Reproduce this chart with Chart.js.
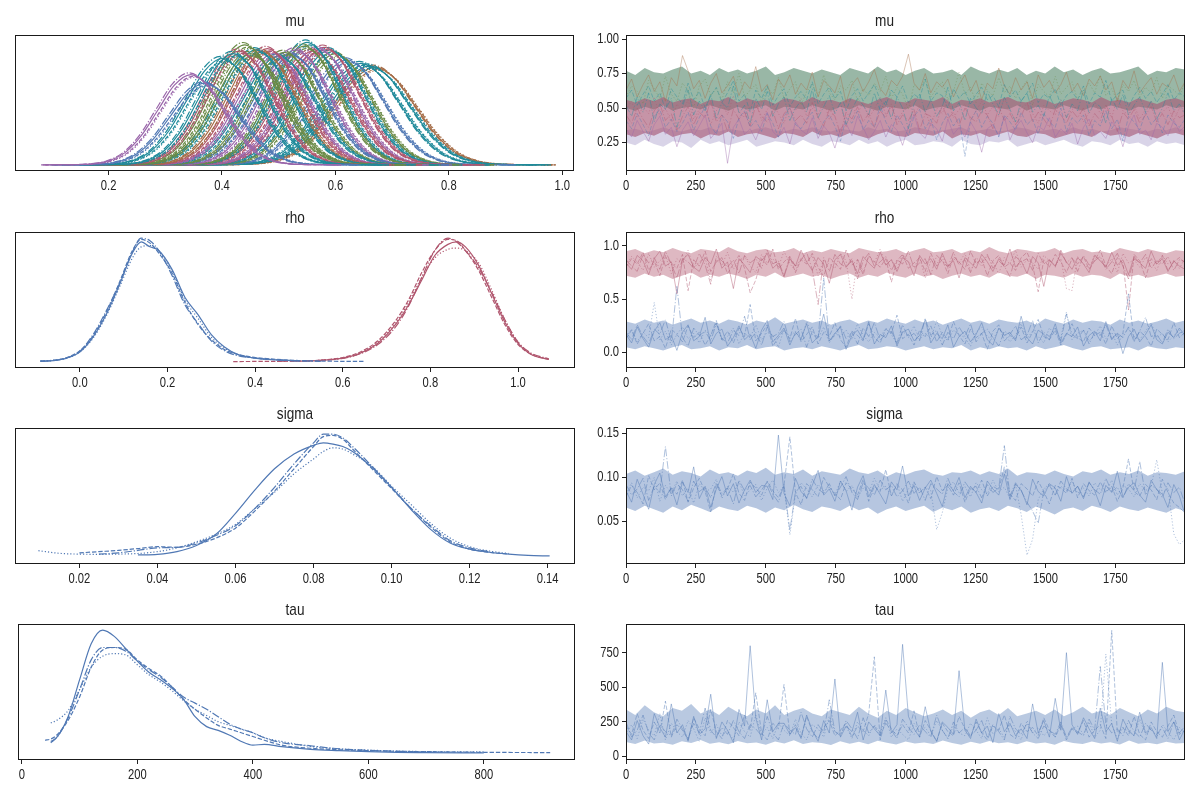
<!DOCTYPE html>
<html>
<head>
<meta charset="utf-8">
<script src="https://cdn.jsdelivr.net/npm/chart.js@4.4.1/dist/chart.umd.min.js"></script>
<style>
  html, body { margin: 0; padding: 0; background: #fff; }
  #fig { position: relative; width: 1200px; height: 800px; overflow: hidden; }
  .panel { position: absolute; }
</style>
</head>
<body>
<div id="fig"></div>
<script>
/* ---------------- Data ---------------- */
const iterTicks  = [0, 250, 500, 750, 1000, 1250, 1500, 1750];
const iterLabels = ['0', '250', '500', '750', '1000', '1250', '1500', '1750'];
const nDraws = 2000;

// mu: KDE bell (standardised units) + each group's centre / spread / peak
const muProfileX = [-4.5, -3.5, -3, -2.5, -2, -1.5, -1, -0.5, 0, 0.5, 1, 1.5, 2, 2.5, 3, 3.5, 4.5];
const muProfileY = [0, 0.003, 0.011, 0.044, 0.135, 0.325, 0.607, 0.882, 1, 0.882, 0.607, 0.325, 0.135, 0.044, 0.011, 0.003, 0];
const muCenters = [0.345, 0.37, 0.40, 0.42, 0.43, 0.44, 0.45, 0.46, 0.47, 0.48, 0.49, 0.50, 0.51, 0.52, 0.53, 0.545, 0.55, 0.56, 0.57, 0.58, 0.59, 0.60, 0.62, 0.645, 0.66, 0.67];
const muWidths  = [0.058, 0.06, 0.062, 0.06, 0.06, 0.06, 0.06, 0.062, 0.06, 0.06, 0.06, 0.062, 0.06, 0.062, 0.06, 0.06, 0.06, 0.062, 0.06, 0.062, 0.062, 0.062, 0.065, 0.068, 0.07, 0.07];
const muHeights = [0.73, 0.66, 0.86, 0.90, 0.92, 0.97, 0.90, 0.93, 0.92, 0.94, 0.90, 0.88, 0.91, 0.90, 0.93, 0.96, 0.99, 0.92, 0.94, 0.95, 0.93, 0.90, 0.85, 0.82, 0.80, 0.79];
const muChainShift = [0, 0.004, -0.003, 0.006];
const muChainScale = [1, 0.98, 1.02, 0.97];

// rho KDE (two components, four chains each)
const rhoLowX  = [-0.09, -0.06, -0.03, 0, 0.03, 0.06, 0.09, 0.12, 0.14, 0.16, 0.18, 0.21, 0.24, 0.27, 0.30, 0.33, 0.36, 0.40, 0.45, 0.50, 0.55, 0.60, 0.65];
const rhoLowY = [
  [0.005, 0.01, 0.03, 0.08, 0.2, 0.38, 0.62, 0.88, 0.97, 0.93, 0.9, 0.75, 0.52, 0.38, 0.22, 0.12, 0.06, 0.03, 0.015, 0.008, null, null, null],
  [0.006, 0.012, 0.035, 0.09, 0.21, 0.4, 0.64, 0.9, 0.99, 0.96, 0.88, 0.72, 0.48, 0.3, 0.18, 0.1, 0.06, 0.035, 0.02, 0.01, 0.006, 0.004, 0.003],
  [0.004, 0.011, 0.032, 0.085, 0.22, 0.41, 0.63, 0.89, 1.0, 0.98, 0.9, 0.7, 0.46, 0.31, 0.17, 0.09, 0.05, 0.03, 0.015, 0.008, 0.004, null, null],
  [0.007, 0.013, 0.03, 0.08, 0.19, 0.37, 0.6, 0.84, 0.93, 0.94, 0.9, 0.74, 0.5, 0.35, 0.2, 0.11, 0.06, 0.03, 0.016, 0.008, null, null, null]
];
const rhoHighX = [0.35, 0.40, 0.45, 0.50, 0.55, 0.60, 0.64, 0.68, 0.72, 0.75, 0.78, 0.81, 0.84, 0.86, 0.88, 0.91, 0.94, 0.97, 1.00, 1.03, 1.07];
const rhoHighY = [
  [null, null, null, 0.005, 0.012, 0.03, 0.07, 0.15, 0.3, 0.46, 0.66, 0.86, 0.95, 0.97, 0.93, 0.78, 0.55, 0.32, 0.15, 0.06, 0.02],
  [0.002, 0.003, 0.004, 0.006, 0.014, 0.035, 0.08, 0.17, 0.33, 0.5, 0.72, 0.9, 0.99, 0.98, 0.9, 0.74, 0.52, 0.3, 0.14, 0.06, 0.02],
  [null, null, 0.004, 0.006, 0.012, 0.028, 0.065, 0.14, 0.28, 0.45, 0.68, 0.9, 1.0, 0.97, 0.9, 0.76, 0.56, 0.34, 0.16, 0.07, 0.025],
  [null, null, null, 0.005, 0.013, 0.03, 0.07, 0.16, 0.31, 0.48, 0.68, 0.84, 0.91, 0.92, 0.9, 0.8, 0.58, 0.34, 0.16, 0.065, 0.022]
];

// sigma KDE
const sigmaKdeX = [0.0095, 0.015, 0.02, 0.025, 0.03, 0.035, 0.04, 0.045, 0.05, 0.055, 0.06, 0.065, 0.07, 0.075, 0.08, 0.0825, 0.085, 0.0875, 0.09, 0.095, 0.10, 0.105, 0.11, 0.115, 0.12, 0.125, 0.13, 0.135, 0.1405];
const sigmaKdeY = [
  [null, null, null, null, null, 0.023, 0.028, 0.05, 0.1, 0.19, 0.36, 0.55, 0.72, 0.84, 0.91, 0.93, 0.92, 0.9, 0.86, 0.73, 0.57, 0.39, 0.23, 0.12, 0.07, 0.045, 0.03, 0.02, 0.015],
  [null, null, 0.04, 0.05, 0.06, 0.075, 0.09, 0.085, 0.11, 0.16, 0.24, 0.38, 0.54, 0.72, 0.9, 0.98, 0.99, 0.96, 0.88, 0.72, 0.56, 0.4, 0.25, 0.13, 0.07, 0.045, 0.03, null, null],
  [null, null, null, 0.03, 0.04, 0.06, 0.08, 0.085, 0.12, 0.18, 0.26, 0.4, 0.57, 0.76, 0.93, 1.0, 1.0, 0.97, 0.9, 0.74, 0.57, 0.4, 0.26, 0.14, 0.08, 0.05, null, null, null],
  [0.058, 0.036, 0.03, 0.028, 0.03, 0.035, 0.05, 0.08, 0.13, 0.19, 0.27, 0.4, 0.53, 0.68, 0.8, 0.86, 0.89, 0.88, 0.84, 0.74, 0.58, 0.43, 0.28, 0.16, 0.09, 0.055, 0.035, null, null]
];

// tau KDE
const tauKdeX = [40, 50, 60, 80, 100, 120, 140, 160, 180, 200, 220, 240, 260, 280, 300, 320, 340, 360, 380, 400, 420, 450, 500, 550, 600, 650, 700, 800, 915];
const tauKdeY = [
  [null, 0.1, 0.13, 0.3, 0.6, 0.89, 1.0, 0.95, 0.85, 0.75, 0.66, 0.6, 0.53, 0.44, 0.3, 0.22, 0.19, 0.15, 0.1, 0.07, 0.077, 0.058, 0.036, 0.026, 0.018, 0.012, 0.01, 0.007, null],
  [0.11, 0.12, 0.15, 0.27, 0.46, 0.7, 0.84, 0.86, 0.845, 0.76, 0.69, 0.63, 0.54, 0.44, 0.36, 0.29, 0.23, 0.2, 0.17, 0.14, 0.11, 0.07, 0.045, 0.033, 0.026, 0.02, 0.018, 0.012, 0.01],
  [null, 0.09, 0.13, 0.29, 0.52, 0.76, 0.86, 0.86, 0.83, 0.75, 0.68, 0.62, 0.54, 0.46, 0.41, 0.36, 0.3, 0.24, 0.2, 0.17, 0.13, 0.09, 0.065, 0.04, 0.028, 0.02, 0.015, null, null],
  [null, 0.25, 0.27, 0.35, 0.52, 0.7, 0.79, 0.81, 0.8, 0.72, 0.64, 0.58, 0.51, 0.43, 0.36, 0.31, 0.26, 0.23, 0.2, 0.17, 0.13, 0.1, 0.06, 0.04, 0.03, 0.022, 0.018, 0.015, null]
];

// mu traces (thinned draws, a few representative groups)
const muTrace = [
  [.35,.29,.41,.33,.26,.38,.44,.31,.36,.22,.34,.40,.30,.37,.45,.28,.33,.39,.10,.36,
   .42,.31,.35,.27,.38,.47,.33,.29,.36,.24,.40,.34,.31,.43,.28,.37,.32,.21,.35,.39,
   .30,.44,.36,.27,.33,.41,.29,.38,.34,.23,.37,.45,.32,.28,.39,.35,.26,.42,.31,.36,
   .29,.40,.33,.18,.35,.38,.30,.44,.27,.36,.41,.32,.25,.37,.34,.43,.29,.35,.31,.39,
   .24,.36,.42,.30,.33,.28,.40,.35,.22,.37,.45,.31,.34,.27,.39,.36,.30,.41,.33,.37],
  [.41,.35,.46,.38,.30,.44,.49,.36,.42,.33,.39,.47,.34,.43,.51,.37,.31,.45,.40,.28,
   .43,.48,.36,.41,.33,.46,.39,.29,.44,.50,.38,.35,.42,.47,.31,.40,.45,.37,.26,.43,
   .39,.48,.34,.41,.36,.52,.40,.33,.45,.38,.30,.44,.49,.35,.42,.27,.39,.46,.37,.43,
   .15,.41,.48,.36,.44,.39,.29,.45,.40,.34,.47,.38,.42,.31,.46,.40,.36,.50,.33,.43,
   .39,.45,.30,.41,.37,.48,.35,.42,.26,.44,.40,.34,.47,.38,.43,.32,.45,.39,.36,.42],
  [.52,.44,.58,.47,.61,.40,.53,.49,.57,.36,.51,.63,.45,.55,.48,.60,.42,.54,.50,.66,
   .46,.52,.39,.57,.49,.62,.44,.53,.58,.41,.50,.55,.47,.64,.43,.51,.59,.46,.54,.38,
   .49,.57,.52,.45,.61,.48,.55,.42,.58,.50,.35,.53,.60,.47,.56,.44,.51,.65,.48,.54,
   .41,.57,.50,.46,.62,.53,.45,.58,.49,.40,.55,.61,.47,.52,.44,.59,.50,.56,.43,.53,
   .48,.63,.46,.54,.51,.39,.57,.49,.60,.45,.52,.58,.47,.55,.42,.50,.61,.48,.53,.46],
  [.58,.66,.62,.53,.70,.64,.57,.73,.60,.55,.68,.63,.50,.66,.71,.59,.64,.56,.69,.61,
   .75,.58,.63,.67,.54,.65,.60,.72,.57,.64,.69,.52,.62,.67,.59,.74,.61,.56,.66,.63,
   .70,.55,.64,.59,.68,.62,.73,.57,.65,.60,.49,.67,.63,.71,.58,.64,.69,.56,.62,.76,
   .60,.65,.54,.68,.63,.59,.72,.61,.66,.57,.64,.70,.52,.67,.62,.58,.73,.60,.65,.69,
   .56,.63,.68,.61,.74,.59,.64,.55,.67,.62,.70,.58,.65,.61,.72,.57,.66,.63,.59,.68],
  [.63,.71,.58,.67,.74,.62,.69,.55,.72,.66,.88,.77,.64,.70,.57,.68,.75,.61,.66,.73,
   .59,.69,.64,.80,.62,.67,.56,.71,.65,.74,.60,.68,.63,.76,.58,.70,.66,.61,.73,.54,
   .67,.72,.62,.69,.78,.64,.59,.70,.66,.73,.89,.68,.63,.75,.61,.69,.65,.71,.58,.67,
   .74,.62,.70,.56,.68,.64,.79,.66,.60,.72,.63,.69,.57,.74,.65,.70,.61,.67,.76,.62,
   .68,.59,.71,.66,.73,.63,.69,.55,.70,.64,.77,.61,.67,.72,.60,.68,.65,.74,.62,.69],
  [.57,.63,.52,.60,.66,.55,.61,.49,.64,.58,.53,.68,.56,.62,.50,.59,.65,.54,.61,.70,
   .55,.60,.47,.63,.57,.66,.52,.59,.64,.51,.58,.62,.56,.69,.53,.60,.65,.57,.62,.48,
   .59,.64,.55,.61,.67,.56,.52,.63,.58,.66,.54,.60,.57,.71,.55,.61,.59,.50,.64,.57,
   .62,.53,.60,.65,.56,.59,.51,.67,.58,.63,.55,.61,.68,.54,.60,.57,.64,.52,.59,.62,
   .56,.66,.53,.61,.58,.70,.55,.60,.63,.51,.59,.65,.57,.62,.54,.60,.67,.56,.61,.58],
  [.45,.39,.50,.42,.36,.48,.53,.41,.46,.34,.44,.51,.38,.47,.43,.55,.40,.45,.33,.49,
   .42,.47,.37,.52,.44,.40,.48,.35,.46,.50,.41,.45,.39,.54,.43,.37,.49,.44,.31,.47,
   .42,.51,.40,.46,.36,.48,.43,.53,.38,.45,.41,.49,.34,.46,.44,.39,.52,.42,.47,.37,
   .50,.43,.40,.48,.45,.35,.51,.41,.46,.38,.44,.54,.40,.47,.42,.36,.49,.45,.39,.48,
   .43,.50,.37,.46,.41,.52,.44,.33,.47,.42,.49,.39,.45,.51,.40,.46,.38,.48,.43,.45],
  [.49,.55,.43,.51,.46,.58,.44,.50,.40,.53,.47,.56,.42,.49,.52,.38,.48,.54,.45,.59,
   .47,.43,.51,.56,.41,.49,.53,.46,.39,.52,.48,.57,.44,.50,.45,.55,.42,.48,.53,.36,
   .50,.46,.54,.43,.49,.58,.45,.51,.41,.47,.55,.44,.52,.48,.37,.50,.46,.56,.43,.49,
   .53,.41,.48,.55,.45,.51,.44,.57,.47,.42,.50,.54,.46,.39,.52,.48,.45,.56,.43,.49,
   .51,.40,.47,.54,.46,.50,.43,.58,.48,.45,.52,.42,.49,.55,.44,.47,.51,.41,.50,.46]
];

// rho traces: high component (4 chains), low component (4 chains)
const rhoHighTrace = [
  [.84,.78,.91,.86,.73,.88,.95,.81,.85,.55,.87,.92,.80,.76,.89,.83,.97,.79,.85,.60,
   .88,.82,.75,.90,.86,.93,.79,.84,.71,.88,.81,.96,.85,.77,.89,.83,.65,.87,.92,.80,
   .86,.74,.90,.84,.79,.94,.82,.87,.76,.89,.85,.72,.91,.83,.88,.78,.93,.81,.86,.70,
   .89,.84,.79,.92,.85,.76,.88,.82,.97,.80,.86,.74,.90,.84,.62,.87,.81,.93,.85,.78,
   .89,.83,.75,.91,.86,.80,.94,.82,.87,.73,.90,.84,.79,.95,.83,.88,.76,.86,.81,.78],
  [.80,.88,.83,.94,.77,.86,.72,.90,.84,.79,.92,.58,.87,.81,.95,.76,.85,.89,.74,.83,
   .91,.79,.56,.68,.88,.82,.97,.78,.85,.90,.75,.87,.83,.93,.80,.71,.89,.84,.78,.96,
   .82,.87,.73,.91,.85,.80,.88,.66,.86,.92,.79,.84,.89,.76,.93,.81,.87,.74,.90,.85,
   .78,.95,.83,.88,.72,.86,.91,.80,.84,.77,.89,.94,.82,.57,.87,.80,.92,.85,.75,.88,
   .83,.90,.78,.86,.96,.81,.74,.89,.84,.40,.92,.86,.70,.88,.83,.91,.77,.85,.89,.84],
  [.87,.81,.76,.92,.84,.89,.78,.95,.83,.70,.88,.85,.79,.93,.82,.64,.90,.86,.80,.87,
   .74,.91,.84,.88,.79,.96,.83,.86,.72,.90,.81,.87,.94,.78,.45,.89,.76,.92,.83,.80,
   .88,.69,.86,.93,.81,.85,.90,.77,.87,.83,.95,.79,.84,.88,.73,.91,.86,.80,.94,.82,
   .87,.75,.89,.84,.92,.79,.86,.81,.71,.90,.85,.88,.77,.93,.83,.87,.80,.96,.84,.89,
   .76,.91,.82,.86,.90,.78,.85,.93,.81,.69,.88,.84,.92,.79,.86,.83,.90,.77,.87,.85],
  [.82,.90,.85,.77,.93,.80,.86,.91,.74,.88,.83,.96,.79,.85,.89,.67,.87,.82,.94,.78,
   .86,.90,.81,.75,.92,.84,.88,.80,.95,.83,.77,.89,.85,.91,.72,.87,.83,.79,.93,.86,
   .50,.88,.76,.90,.84,.97,.82,.87,.78,.92,.85,.80,.89,.70,.86,.83,.91,.79,.88,.84,
   .93,.77,.86,.81,.90,.85,.74,.89,.83,.96,.80,.87,.84,.78,.91,.86,.82,.88,.60,.58,
   .90,.83,.79,.92,.86,.81,.88,.75,.93,.84,.87,.80,.89,.85,.77,.91,.83,.86,.79,.88]
];
const rhoLowTrace = [
  [.17,.09,.24,.13,.05,.20,.28,.12,.16,.02,.19,.26,.11,.15,.33,.08,.18,.22,.06,.14,
   .25,.12,.17,.04,.21,.30,.10,.16,.23,.07,.19,.13,.27,.09,.15,.36,.11,.18,.24,.03,
   .16,.21,.12,.29,.08,.17,.14,.25,.06,.19,.22,.11,.16,.31,.09,.18,.13,.26,.05,.15,
   .20,.10,.17,.28,.12,.07,.23,.16,.19,.11,.34,.14,.08,.21,.17,.12,.27,.09,.18,.15,
   .24,.06,.16,.20,.11,.29,.13,.18,-.01,.15,.22,.10,.17,.26,.12,.08,.19,.14,.23,.16],
  [.13,.21,.08,.18,.27,.11,.15,.04,.22,.17,.10,.25,.14,.19,.07,.16,.30,.12,.20,.09,
   .23,.15,.45,.11,.18,.26,.06,.14,.21,.13,.32,.10,.17,.24,.08,.19,.15,.28,.12,.05,
   .20,.16,.11,.27,.14,.09,.22,.18,.35,.13,.17,.07,.21,.15,.25,.10,.19,.12,.29,.16,
   .08,.22,.14,.18,.03,.20,.26,.11,.16,.13,.24,.09,.19,.31,.15,.12,.21,.07,.17,.27,
   .14,.10,.23,.16,.19,.08,.25,.13,.18,.55,.11,.20,.15,.06,.22,.17,.12,.28,.14,.19],
  [.19,.12,.26,.15,.08,.22,.17,.31,.10,.62,.14,.06,.23,.16,.20,.11,.27,.13,.09,.21,
   .16,.34,.12,.19,.07,.24,.15,.18,.29,.10,.17,.22,.05,.20,.14,.70,.11,.16,.25,.13,
   .19,.08,.23,.15,.28,.12,.17,.20,.09,.26,.14,.18,.11,.32,.16,.21,.07,.19,.13,.24,
   .15,.27,.10,.18,.22,.14,.06,.20,.17,.25,.12,.16,.30,.09,.19,.15,.23,.11,.36,.17,
   .13,.21,.08,.19,.16,.26,.12,.18,.14,.24,.10,.20,.33,.15,.17,.09,.22,.13,.18,.21],
  [.15,.22,.10,.19,.14,.47,.12,.20,.07,.17,.24,.13,.18,.09,.21,.16,.28,.11,.15,.23,
   .08,.18,.14,.26,.12,.19,.16,.05,.22,.15,.20,.11,.29,.17,.13,.24,.09,.18,.15,.21,
   .12,.27,.16,.10,.19,.14,.23,.17,.08,.20,.15,.25,.12,.18,.13,.30,.16,.11,.21,.17,
   .14,.06,.19,.24,.15,.12,.22,.18,.10,.16,.27,.13,.20,.15,.09,.23,.17,.14,.38,.12,
   .18,.21,.11,.16,.25,.13,.19,.07,.17,.22,.15,.12,.20,.28,.14,.18,.10,.16,.21,.15]
];

// sigma traces
const sigmaTrace = [
  [.085,.072,.098,.081,.064,.092,.105,.078,.088,.069,.095,.083,.112,.076,.090,.066,.087,.101,.079,.093,
   .071,.086,.097,.083,.091,.090,.075,.148,.082,.068,.099,.084,.077,.091,.108,.080,.087,.073,.096,.085,
   .063,.089,.102,.078,.092,.081,.070,.095,.086,.113,.079,.091,.074,.088,.097,.082,.067,.093,.085,.100,
   .077,.090,.083,.071,.096,.087,.080,.104,.075,.092,.086,.069,.098,.084,.079,.093,.088,.073,.101,.082,
   .090,.076,.095,.085,.068,.091,.083,.107,.078,.089,.094,.080,.072,.097,.086,.081,.066,.092,.079,.058],
  [.078,.091,.083,.070,.102,.086,.094,.075,.089,.081,.097,.072,.088,.099,.084,.061,.092,.079,.087,.104,
   .082,.074,.095,.088,.080,.096,.085,.077,.091,.146,.083,.069,.093,.086,.078,.100,.089,.082,.075,.094,
   .087,.080,.098,.073,.090,.084,.109,.079,.092,.086,.071,.095,.083,.089,.076,.101,.085,.091,.080,.094,
   .072,.088,.083,.097,.079,.090,.086,.112,.081,.074,.093,.087,.079,.096,.084,.070,.091,.088,.082,.099,
   .077,.093,.085,.080,.095,.083,.090,.073,.088,.121,.084,.079,.092,.086,.075,.098,.083,.071,.066,.060],
  [.092,.080,.087,.099,.074,.090,.083,.135,.079,.093,.086,.073,.096,.084,.089,.077,.094,.082,.088,.070,
   .097,.085,.091,.078,.086,.095,.081,.072,.092,.040,.084,.090,.076,.098,.087,.082,.093,.079,.089,.101,
   .083,.075,.094,.088,.080,.097,.086,.091,.078,.085,.096,.082,.089,.074,.093,.087,.081,.099,.084,.078,
   .095,.086,.090,.077,.092,.083,.088,.136,.079,.094,.085,.072,.062,.048,.085,.091,.080,.096,.087,.083,
   .090,.078,.094,.086,.081,.099,.084,.089,.076,.093,.085,.118,.080,.091,.087,.077,.094,.083,.089,.070],
  [.081,.094,.077,.089,.085,.100,.073,.091,.082,.096,.079,.088,.071,.093,.084,.087,.098,.076,.090,.083,
   .095,.079,.086,.092,.074,.088,.097,.083,.090,.035,.081,.094,.087,.078,.092,.085,.089,.080,.096,.084,
   .091,.077,.088,.083,.099,.086,.090,.079,.093,.073,.087,.094,.082,.089,.085,.041,.060,.088,.095,.083,
   .090,.078,.094,.086,.081,.097,.084,.089,.076,.092,.058,.012,.030,.075,.087,.093,.080,.090,.085,.096,
   .082,.088,.079,.094,.086,.083,.097,.080,.091,.087,.078,.093,.085,.090,.120,.082,.088,.036,.024,.030]
];

// tau traces
const tauTrace = [
  [180,120,260,150,90,310,210,140,380,170,230,110,290,160,200,450,130,250,190,100,
   340,220,800,280,120,410,180,240,240,160,210,130,300,190,110,260,170,560,140,220,
   180,320,120,250,200,150,480,170,230,810,290,200,140,360,180,110,250,210,160,620,
   190,130,270,170,220,100,310,180,240,150,200,130,380,170,260,140,420,190,750,230,
   160,280,200,130,350,180,240,110,270,190,150,320,170,210,130,680,180,250,120,200],
  [220,160,310,190,130,250,170,400,140,230,190,120,280,200,150,340,180,130,260,210,
   150,300,190,460,170,120,240,200,520,160,230,140,290,180,130,210,260,150,190,240,
   140,220,180,310,720,120,270,200,150,230,170,330,140,260,190,110,240,180,150,290,
   200,140,250,170,120,220,190,300,160,130,240,180,210,150,280,190,140,230,120,200,
   170,260,140,190,230,130,910,170,210,150,290,160,120,250,180,140,220,300,160,190],
  [250,140,190,300,170,120,230,180,150,270,200,130,240,170,350,190,140,210,160,260,
   180,130,230,200,150,290,170,120,240,190,160,320,200,140,230,170,410,180,150,260,
   200,130,280,170,220,150,240,190,130,270,210,160,230,180,140,300,190,130,250,170,
   210,150,190,260,140,230,180,120,290,200,160,240,170,130,220,190,160,250,140,210,
   180,150,270,190,650,230,170,200,150,260,180,140,240,190,160,210,130,250,170,220],
  [160,230,130,270,190,150,310,120,240,180,140,260,200,110,280,170,230,150,190,120,
   250,180,140,300,160,210,130,240,190,150,270,170,120,230,200,140,290,180,160,220,
   130,250,190,150,230,170,280,140,200,160,120,240,180,210,150,260,190,130,220,170,
   150,240,190,130,280,160,200,140,230,180,120,260,170,210,150,190,140,240,130,200,
   220,160,250,140,190,740,230,130,210,180,150,270,160,200,140,230,180,120,210,170]
];

// dense core of each trace (where the 2000 overlapping draws fill the panel): [lower edge, upper edge]
const muLowBand = [
  [.25,.23,.27,.24,.22,.26,.25,.21,.27,.24,.26,.23,.25,.27,.22,.24,.26,.25,.23,.27,
   .24,.22,.26,.25,.23,.27,.24,.26,.22,.25,.27,.23,.24,.26,.25,.22,.27,.24,.23,.26,
   .25,.27,.22,.24,.26,.23,.25,.27,.24,.22,.26,.25,.23,.27,.24,.25,.22,.26,.24,.25,.23],
  [.34,.35,.33,.34,.36,.34,.33,.35,.34,.36,.33,.35,.34,.33,.35,.36,.34,.33,.35,.34,
   .36,.34,.33,.35,.34,.33,.36,.34,.35,.33,.34,.36,.35,.33,.34,.35,.36,.33,.34,.35,
   .33,.34,.36,.35,.33,.34,.35,.33,.36,.34,.35,.33,.34,.36,.35,.34,.33,.35,.34,.36,.34]];
const muMidBand = [
  [.31,.29,.32,.30,.33,.29,.31,.32,.28,.31,.30,.33,.29,.31,.32,.30,.28,.32,.31,.29,
   .33,.30,.31,.29,.32,.30,.28,.31,.33,.30,.29,.32,.31,.30,.33,.28,.31,.30,.32,.29,
   .31,.33,.30,.29,.32,.31,.28,.30,.32,.31,.29,.33,.30,.31,.29,.32,.30,.28,.31,.32,.30],
  [.56,.54,.57,.55,.58,.54,.56,.57,.53,.56,.55,.58,.54,.57,.55,.56,.53,.57,.56,.54,
   .58,.55,.56,.54,.57,.55,.53,.56,.58,.55,.54,.57,.56,.55,.58,.53,.56,.55,.57,.54,
   .56,.58,.55,.54,.57,.56,.53,.55,.57,.56,.54,.58,.55,.56,.54,.57,.55,.53,.56,.57,.55]];
const muHighBand = [
  [.50,.48,.51,.49,.52,.48,.50,.51,.49,.52,.50,.48,.51,.49,.50,.52,.48,.51,.50,.49,
   .52,.50,.48,.51,.49,.52,.50,.48,.51,.50,.49,.52,.48,.50,.51,.49,.52,.50,.48,.51,
   .50,.49,.52,.48,.51,.50,.49,.52,.50,.48,.51,.49,.52,.50,.48,.51,.50,.49,.52,.50,.51],
  [.77,.74,.79,.76,.75,.78,.80,.75,.77,.74,.79,.76,.78,.75,.77,.80,.74,.76,.79,.77,
   .75,.78,.76,.74,.79,.77,.75,.80,.76,.78,.74,.77,.79,.75,.76,.78,.74,.80,.77,.75,
   .78,.76,.79,.74,.77,.75,.80,.76,.78,.74,.77,.79,.75,.76,.78,.80,.74,.77,.76,.79,.78]];
const rhoHighBand = [
  [.72,.70,.74,.71,.73,.69,.72,.75,.70,.73,.71,.74,.72,.69,.73,.71,.75,.70,.72,.74,
   .71,.73,.69,.72,.74,.70,.73,.71,.75,.72,.70,.74,.71,.73,.69,.72,.74,.71,.73,.70,
   .75,.72,.71,.74,.69,.73,.72,.70,.74,.71,.73,.72,.69,.74,.71,.73,.70,.72,.74,.71,.72],
  [.95,.97,.93,.96,.94,.98,.95,.93,.97,.96,.94,.99,.95,.93,.96,.97,.94,.95,.98,.93,
   .96,.94,.97,.95,.93,.98,.96,.94,.95,.97,.93,.96,.98,.94,.95,.97,.93,.96,.94,.99,
   .95,.93,.97,.96,.94,.95,.98,.93,.96,.97,.94,.95,.93,.98,.96,.94,.97,.95,.93,.96,.95]];
const rhoLowBand = [
  [.05,.03,.06,.04,.02,.05,.07,.03,.04,.06,.02,.05,.04,.07,.03,.05,.06,.02,.04,.05,
   .03,.06,.04,.02,.05,.07,.03,.04,.06,.05,.02,.04,.06,.03,.05,.04,.07,.02,.05,.03,
   .06,.04,.05,.02,.06,.03,.05,.07,.04,.02,.05,.06,.03,.04,.05,.02,.06,.04,.03,.05,.04],
  [.29,.27,.31,.28,.30,.26,.29,.32,.28,.30,.27,.31,.29,.26,.30,.28,.33,.27,.29,.31,
   .28,.30,.26,.29,.31,.27,.30,.28,.32,.29,.27,.31,.28,.30,.26,.29,.32,.28,.30,.27,
   .31,.29,.28,.30,.26,.32,.29,.27,.31,.28,.30,.29,.26,.31,.28,.30,.27,.29,.32,.28,.30]];
const sigmaBand = [
  [.066,.062,.068,.064,.060,.067,.063,.069,.065,.061,.067,.064,.062,.068,.065,.060,.066,.063,.069,.064,
   .061,.067,.065,.062,.068,.063,.066,.059,.064,.067,.062,.065,.068,.061,.066,.063,.067,.060,.064,.066,
   .062,.068,.065,.061,.067,.063,.058,.064,.066,.062,.068,.065,.061,.067,.064,.062,.066,.063,.060,.065,.062],
  [.104,.108,.102,.106,.110,.103,.107,.105,.101,.109,.104,.106,.102,.108,.105,.111,.103,.106,.104,.109,
   .102,.107,.105,.103,.110,.106,.104,.108,.101,.106,.103,.107,.109,.104,.102,.106,.105,.108,.103,.107,
   .104,.110,.102,.106,.105,.103,.108,.104,.101,.107,.105,.109,.103,.106,.104,.108,.102,.106,.105,.103,.107]];
const tauBand = [
  [105,90,115,95,100,85,110,98,120,92,104,88,112,96,101,86,108,94,117,90,
   103,97,84,111,93,106,89,114,99,87,109,95,102,91,116,98,85,107,93,112,
   96,104,88,110,94,101,86,113,97,90,108,95,103,87,115,92,100,89,106,94,98],
  [340,300,370,320,290,350,330,380,310,340,300,360,320,290,340,310,370,300,330,350,
   310,290,340,320,300,360,310,280,330,300,350,320,290,310,340,300,330,280,320,340,
   300,350,290,310,330,300,340,290,320,360,310,330,300,350,320,290,340,310,360,330,320]];

// axis ticks
const muKdeTicks = [0.2, 0.4, 0.6, 0.8, 1.0];       const muKdeLabels = ['0.2', '0.4', '0.6', '0.8', '1.0'];
const rhoKdeTicks = [0, 0.2, 0.4, 0.6, 0.8, 1.0];   const rhoKdeLabels = ['0.0', '0.2', '0.4', '0.6', '0.8', '1.0'];
const sigmaKdeTicks = [0.02, 0.04, 0.06, 0.08, 0.10, 0.12, 0.14];
const sigmaKdeLabels = ['0.02', '0.04', '0.06', '0.08', '0.10', '0.12', '0.14'];
const tauKdeTicks = [0, 200, 400, 600, 800];        const tauKdeLabels = ['0', '200', '400', '600', '800'];
const muTraceTicks = [0.25, 0.5, 0.75, 1.0];        const muTraceLabels = ['0.25', '0.50', '0.75', '1.00'];
const rhoTraceTicks = [0, 0.5, 1.0];                const rhoTraceLabels = ['0.0', '0.5', '1.0'];
const sigmaTraceTicks = [0.05, 0.10, 0.15];         const sigmaTraceLabels = ['0.05', '0.10', '0.15'];
const tauTraceTicks = [0, 250, 500, 750];           const tauTraceLabels = ['0', '250', '500', '750'];

/* ---------------- Style / layout ---------------- */
const FONT = "'Liberation Sans Narrow', 'Liberation Sans', 'Roboto', sans-serif";
const TEXT_SQUEEZE = 0.8;   // the reference uses a condensed face; squeeze text horizontally
const PAL = {
  blue: '#5078b4', rose: '#b0566e', green: '#6a8a46',
  purple: '#9a66aa', teal: '#1f8a9a', brown: '#a56d48'
};
const muPalette = [PAL.purple, PAL.blue, PAL.teal, PAL.teal, PAL.rose, PAL.green, PAL.green, PAL.teal, PAL.brown, PAL.rose,
                   PAL.purple, PAL.teal, PAL.green, PAL.blue, PAL.purple, PAL.green, PAL.teal, PAL.rose, PAL.purple, PAL.rose,
                   PAL.teal, PAL.green, PAL.blue, PAL.teal, PAL.teal, PAL.brown];
const muTraceColors = [PAL.purple, PAL.blue, PAL.teal, PAL.green, PAL.brown, PAL.teal, PAL.rose, PAL.rose];
const chainDash = [[], [4.4, 1.9], [7.7, 1.9, 1.2, 1.9], [1.2, 2]];

const AX_LEFT = [15, 626], AX_RIGHT = [575, 1185];
const AX_TOP = [35, 232, 428, 624], AX_H = 136;
const TITLE_H = 25, XAXIS_H = 26, YAXIS_W = 42;

function rgba(hex, a) {
  const n = parseInt(hex.slice(1), 16);
  return `rgba(${n >> 16},${(n >> 8) & 255},${n & 255},${a})`;
}

// iteration index for each stored draw
function drawIndex(len) {
  return Array.from({ length: len }, (_, i) => Math.round(i * (nDraws - 1) / (len - 1)));
}

function curve(xs, ys) {
  const pts = [];
  xs.forEach((x, i) => { if (ys[i] !== null) pts.push({ x: x, y: ys[i] }); });
  return pts;
}

function kdeSet(pts, color, chain) {
  return { data: pts, borderColor: color, borderWidth: 1.2, borderDash: chainDash[chain],
           pointRadius: 0, fill: false, cubicInterpolationMode: 'monotone' };
}

function traceSet(vals, color, chain, alpha) {
  const xs = drawIndex(vals.length);
  return { data: vals.map((v, i) => ({ x: xs[i], y: v })), borderColor: rgba(color, alpha),
           borderWidth: 1, borderDash: chainDash[chain], pointRadius: 0, fill: false, tension: 0, order: 1 };
}

// two datasets: lower edge, then upper edge filled down to it
function bandSets(band, color, alpha) {
  const xs = drawIndex(band[0].length);
  const lo = { data: band[0].map((v, i) => ({ x: xs[i], y: v })), borderWidth: 0, pointRadius: 0,
               fill: false, tension: 0, order: 5 };
  const hi = { data: band[1].map((v, i) => ({ x: xs[i], y: v })), borderWidth: 0, pointRadius: 0,
               fill: '-1', backgroundColor: rgba(color, alpha), tension: 0, order: 5 };
  return [lo, hi];
}

// draw the full matplotlib-like frame round the plot area
const boxPlugin = {
  id: 'box',
  afterDraw(chart) {
    const a = chart.chartArea, c = chart.ctx;
    c.save();
    c.strokeStyle = '#1a1a1a';
    c.lineWidth = 1;
    c.strokeRect(Math.round(a.left) + 0.5, Math.round(a.top) + 0.5,
                 Math.round(a.right - a.left) - 1, Math.round(a.bottom - a.top) - 1);
    c.restore();
  }
};

function tickAxis(ticks, labels, extra) {
  return Object.assign({
    type: 'linear',
    afterBuildTicks: s => { s.ticks = ticks.map(v => ({ value: v })); },
    ticks: { autoSkip: false, maxRotation: 0, color: '#222', padding: 3,
             font: { family: FONT, size: 14 }, callback: (v, i) => labels[i] },
    grid: { drawOnChartArea: false, drawTicks: true, tickLength: 4, color: '#222' },
    border: { display: false }
  }, extra);
}

function addPanel(p) {
  const fig = document.getElementById('fig');
  const div = document.createElement('div');
  div.className = 'panel';
  const left = p.col === 0 ? AX_LEFT[0] : AX_LEFT[1] - YAXIS_W;
  const width = AX_RIGHT[p.col] - left;
  const height = TITLE_H + AX_H + XAXIS_H;
  div.style.left = left + 'px';
  div.style.top = (AX_TOP[p.row] - TITLE_H) + 'px';
  div.style.width = width + 'px';
  div.style.height = height + 'px';
  const cv = document.createElement('canvas');
  div.appendChild(cv);
  fig.appendChild(div);

  // squeeze every label about its own anchor, so alignment is kept
  const ctx = cv.getContext('2d');
  const plainFill = ctx.fillText;
  ctx.fillText = function (text, x, y) {
    this.save();
    this.translate(x, y);
    this.scale(TEXT_SQUEEZE, 1);
    plainFill.call(this, text, 0, 0);
    this.restore();
  };

  const xScale = tickAxis(p.xTicks, p.xLabels, { min: p.xMin, max: p.xMax,
    afterFit: s => { s.height = XAXIS_H; } });
  const yScale = p.col === 0
    ? { type: 'linear', display: false, min: p.yMin, max: p.yMax }
    : tickAxis(p.yTicks, p.yLabels, { min: p.yMin, max: p.yMax,
        afterFit: s => { s.width = YAXIS_W; } });

  new Chart(ctx, {
    type: 'line',
    data: { datasets: p.datasets },
    options: {
      responsive: true,
      maintainAspectRatio: false,
      animation: false,
      layout: { padding: 0 },
      plugins: {
        legend: { display: false },
        tooltip: { enabled: false },
        title: { display: true, text: p.title, color: '#222',
                 font: { family: FONT, size: 17, weight: 'normal', lineHeight: 1 },
                 padding: { top: 3, bottom: 5 } }
      },
      scales: { x: xScale, y: yScale }
    },
    plugins: [boxPlugin]
  });
}

/* ---------------- mu ---------------- */
const muKde = [];
muCenters.forEach((c, g) => {
  for (let ch = 0; ch < 4; ch++) {
    const pts = muProfileX.map((px, i) => ({
      x: c + muChainShift[ch] + px * muWidths[g],
      y: muProfileY[i] * muHeights[g] * muChainScale[ch]
    }));
    muKde.push(kdeSet(pts, muPalette[g], ch));
  }
});
addPanel({ row: 0, col: 0, title: 'mu', datasets: muKde,
  xMin: 0.035, xMax: 1.02, yMin: -0.05, yMax: 1.05, xTicks: muKdeTicks, xLabels: muKdeLabels });

// first dataset is painted last: rose traces and the rose core sit on top
const muTr = muTrace.map((s, k) => traceSet(s, muTraceColors[k], k % 4, 0.4)).reverse();
addPanel({ row: 0, col: 1, title: 'mu',
  datasets: muTr.concat(bandSets(muMidBand, '#a85a78', 0.65), bandSets(muHighBand, '#55876a', 0.6),
                        bandSets(muLowBand, '#8a7ab8', 0.32)),
  xMin: 0, xMax: nDraws - 1, yMin: 0.044, yMax: 1.029,
  xTicks: iterTicks, xLabels: iterLabels, yTicks: muTraceTicks, yLabels: muTraceLabels });

/* ---------------- rho ---------------- */
const rhoKde = [];
rhoLowY.forEach((ys, ch) => rhoKde.push(kdeSet(curve(rhoLowX, ys), PAL.blue, ch)));
rhoHighY.forEach((ys, ch) => rhoKde.push(kdeSet(curve(rhoHighX, ys), PAL.rose, ch)));
addPanel({ row: 1, col: 0, title: 'rho', datasets: rhoKde,
  xMin: -0.148, xMax: 1.13, yMin: -0.05, yMax: 1.05, xTicks: rhoKdeTicks, xLabels: rhoKdeLabels });

const rhoTr = [];
rhoLowTrace.forEach((s, ch) => rhoTr.push(traceSet(s, PAL.blue, ch, 0.45)));
rhoHighTrace.forEach((s, ch) => rhoTr.push(traceSet(s, PAL.rose, ch, 0.45)));
addPanel({ row: 1, col: 1, title: 'rho',
  datasets: rhoTr.concat(bandSets(rhoLowBand, PAL.blue, 0.42), bandSets(rhoHighBand, PAL.rose, 0.42)),
  xMin: 0, xMax: nDraws - 1, yMin: -0.145, yMax: 1.13,
  xTicks: iterTicks, xLabels: iterLabels, yTicks: rhoTraceTicks, yLabels: rhoTraceLabels });

/* ---------------- sigma ---------------- */
addPanel({ row: 2, col: 0, title: 'sigma',
  datasets: sigmaKdeY.map((ys, ch) => kdeSet(curve(sigmaKdeX, ys), PAL.blue, ch)),
  xMin: 0.0035, xMax: 0.147, yMin: -0.05, yMax: 1.05, xTicks: sigmaKdeTicks, xLabels: sigmaKdeLabels });

addPanel({ row: 2, col: 1, title: 'sigma',
  datasets: sigmaTrace.map((s, ch) => traceSet(s, PAL.blue, ch, 0.45)).concat(bandSets(sigmaBand, PAL.blue, 0.42)),
  xMin: 0, xMax: nDraws - 1, yMin: 0.002, yMax: 0.156,
  xTicks: iterTicks, xLabels: iterLabels, yTicks: sigmaTraceTicks, yLabels: sigmaTraceLabels });

/* ---------------- tau ---------------- */
addPanel({ row: 3, col: 0, title: 'tau',
  datasets: tauKdeY.map((ys, ch) => kdeSet(curve(tauKdeX, ys), PAL.blue, ch)),
  xMin: -6, xMax: 958, yMin: -0.05, yMax: 1.05, xTicks: tauKdeTicks, xLabels: tauKdeLabels });

addPanel({ row: 3, col: 1, title: 'tau',
  datasets: tauTrace.map((s, ch) => traceSet(s, PAL.blue, ch, 0.45)).concat(bandSets(tauBand, PAL.blue, 0.4)),
  xMin: 0, xMax: nDraws - 1, yMin: -25, yMax: 957,
  xTicks: iterTicks, xLabels: iterLabels, yTicks: tauTraceTicks, yLabels: tauTraceLabels });
</script>
</body>
</html>
